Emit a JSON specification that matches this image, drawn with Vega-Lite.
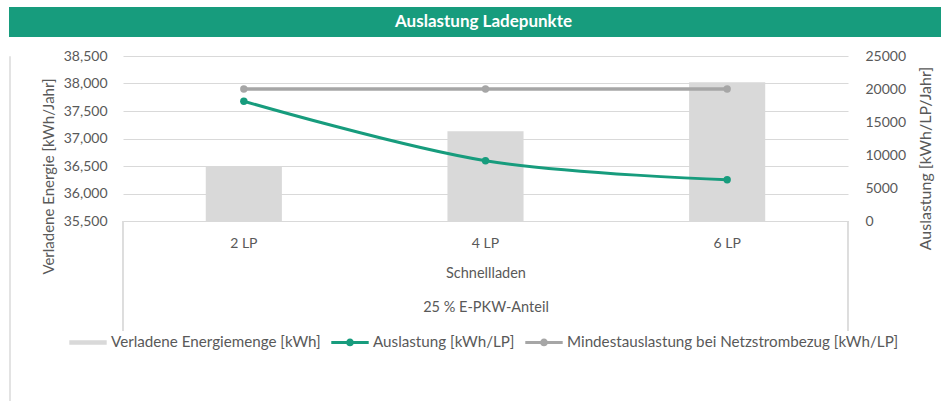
{
  "$schema": "https://vega.github.io/schema/vega-lite/v6.json",
  "background": "white",
  "padding": {"left": 8, "top": 7, "right": 0, "bottom": 0},
  "config": {
    "font": "Lato",
    "view": {"stroke": null},
    "axis": {"labelFont": "Lato", "titleFont": "Lato", "labelColor": "#595959", "titleColor": "#595959", "labelFontSize": 14, "titleFontSize": 15, "titleFontWeight": "normal"},
    "legend": {"labelFont": "Lato", "labelColor": "#595959", "labelFontSize": 15.2}
  },
  "datasets": {
    "ladepunkte": [
      {"LP": "2 LP", "Energie": 36490, "Auslastung": 18150, "Mindest": 20000},
      {"LP": "4 LP", "Energie": 37130, "Auslastung": 9130, "Mindest": 20000},
      {"LP": "6 LP", "Energie": 38025, "Auslastung": 6240, "Mindest": 20000}
    ]
  },
  "vconcat": [
    {
      "width": 933,
      "height": 30,
      "view": {"fill": "#179C7D", "stroke": null},
      "data": {"values": [{"title": "Auslastung Ladepunkte"}]},
      "mark": {"type": "text", "color": "white", "font": "Lato", "fontWeight": "bold", "fontSize": 17, "baseline": "middle", "align": "center", "dx": 8},
      "encoding": {"text": {"field": "title"}}
    },
    {
      "hconcat": [
        {
          "width": 1,
          "height": 352,
          "view": {"stroke": "#E3E3E3", "strokeWidth": 1},
          "data": {"values": [{"t": ""}]},
          "mark": {"type": "text"},
          "encoding": {"text": {"field": "t"}}
        },
        {
          "width": 725,
          "height": 165,
          "data": {"name": "ladepunkte"},
          "layer": [
            {
              "mark": {"type": "bar", "color": "#D9D9D9"},
              "encoding": {
                "x": {"field": "LP", "type": "nominal", "sort": null,
                  "scale": {"domain": ["2 LP", "4 LP", "6 LP"], "paddingInner": 0.685, "paddingOuter": 0.3425},
                  "axis": {"orient": "bottom", "labelAngle": 0, "ticks": false, "domain": true, "domainColor": "#D9D9D9", "domainWidth": 1, "labelPadding": 15, "grid": false,
                    "title": ["Schnellladen", "25 % E-PKW-Anteil"], "titleFontSize": 14.5, "titleLineHeight": 34, "titleBaseline": "alphabetic", "titleY": 56}},
                "y": {"field": "Energie", "type": "quantitative",
                  "scale": {"domain": [35500, 38500], "zero": false, "nice": false},
                  "axis": {"orient": "left", "values": [35500, 36000, 36500, 37000, 37500, 38000, 38500], "format": ",d", "grid": true, "gridColor": "#D9D9D9", "gridWidth": 1, "domain": false, "ticks": false, "labelPadding": 16, "labelOverlap": false,
                    "title": "Verladene Energie [kWh/Jahr]", "titleAngle": 270, "titleAlign": "center", "titleBaseline": "middle", "titleX": -75, "titleY": 120}},
                "y2": {"datum": 35500},
                "color": {"datum": "Verladene Energiemenge [kWh]", "type": "nominal",
                  "scale": {"domain": ["Verladene Energiemenge [kWh]", "Auslastung [kWh/LP]", "Mindestauslastung bei Netzstrombezug [kWh/LP]"], "range": ["#D9D9D9", "#179C7D", "#A6A6A6"]},
                  "legend": {"orient": "none", "legendX": -54, "legendY": 267, "direction": "horizontal", "title": null, "columnPadding": 10, "labelOffset": 4, "labelLimit": 0, "symbolSize": 1400, "symbolStrokeWidth": 0,
                    "encode": {"symbols": {"update": {
                      "shape": {"signal": "datum.value === 'Verladene Energiemenge [kWh]' ? 'M-1,-0.12H1V0.12H-1Z' : 'M-1,-0.08H1V0.08H-1Z M0.21,0 A0.21,0.21 0 1,1 -0.21,0 A0.21,0.21 0 1,1 0.21,0Z'"},
                      "fill": {"scale": "color", "field": "value"},
                      "fillOpacity": {"value": 1},
                      "strokeWidth": {"value": 0},
                      "opacity": {"value": 1}}}}}}
              }
            },
            {
              "layer": [
                {
                  "mark": {"type": "rule", "color": "#D9D9D9", "strokeWidth": 1},
                  "encoding": {
                    "x": {"datum": 0, "type": "quantitative", "scale": {"domain": [0, 1], "nice": false, "zero": false}, "axis": null},
                    "y": {"datum": 35500, "type": "quantitative", "scale": {"domain": [35500, 38500], "zero": false, "nice": false}, "axis": null},
                    "y2": {"datum": 33500}
                  }
                },
                {
                  "mark": {"type": "rule", "color": "#D9D9D9", "strokeWidth": 1},
                  "encoding": {
                    "x": {"datum": 1, "type": "quantitative"},
                    "y": {"datum": 35500, "type": "quantitative"},
                    "y2": {"datum": 33500}
                  }
                }
              ]
            },
            {
              "encoding": {
                "x": {"field": "LP", "type": "nominal", "sort": null,
                  "scale": {"domain": ["2 LP", "4 LP", "6 LP"], "paddingInner": 0.685, "paddingOuter": 0.3425}, "axis": null}
              },
              "layer": [
                {
                  "mark": {"type": "line", "strokeWidth": 3, "interpolate": "catmull-rom", "point": {"filled": true, "size": 55}},
                  "encoding": {
                    "y": {"field": "Auslastung", "type": "quantitative",
                      "scale": {"domain": [0, 25000], "nice": false, "zero": true},
                      "axis": {"orient": "right", "values": [0, 5000, 10000, 15000, 20000, 25000], "tickCount": 6, "format": "d", "grid": false, "domain": false, "ticks": false, "labelPadding": 17, "labelOverlap": false, "labelFlush": false,
                        "title": "Auslastung [kWh/LP/Jahr]", "titleFontSize": 16, "titleAngle": 270, "titleAlign": "center", "titleBaseline": "middle", "titleX": 77, "titleY": 102}},
                    "color": {"datum": "Auslastung [kWh/LP]", "type": "nominal"}
                  }
                },
                {
                  "mark": {"type": "line", "strokeWidth": 3.5, "point": {"filled": true, "size": 55}},
                  "encoding": {
                    "y": {"field": "Mindest", "type": "quantitative",
                      "axis": {"orient": "right", "values": [0, 5000, 10000, 15000, 20000, 25000], "tickCount": 6, "format": "d", "grid": false, "domain": false, "ticks": false, "labelPadding": 17, "labelOverlap": false, "labelFlush": false,
                        "title": "Auslastung [kWh/LP/Jahr]", "titleFontSize": 16, "titleAngle": 270, "titleAlign": "center", "titleBaseline": "middle", "titleX": 77, "titleY": 102}},
                    "color": {"datum": "Mindestauslastung bei Netzstrombezug [kWh/LP]", "type": "nominal"}
                  }
                }
              ]
            }
          ],
          "resolve": {"scale": {"x": "independent", "y": "independent"}}
        }
      ],
      "spacing": 30,
      "resolve": {"scale": {"color": "independent"}, "legend": {"color": "independent"}}
    }
  ],
  "spacing": 12,
  "resolve": {"scale": {"color": "independent"}, "legend": {"color": "independent"}}
}
